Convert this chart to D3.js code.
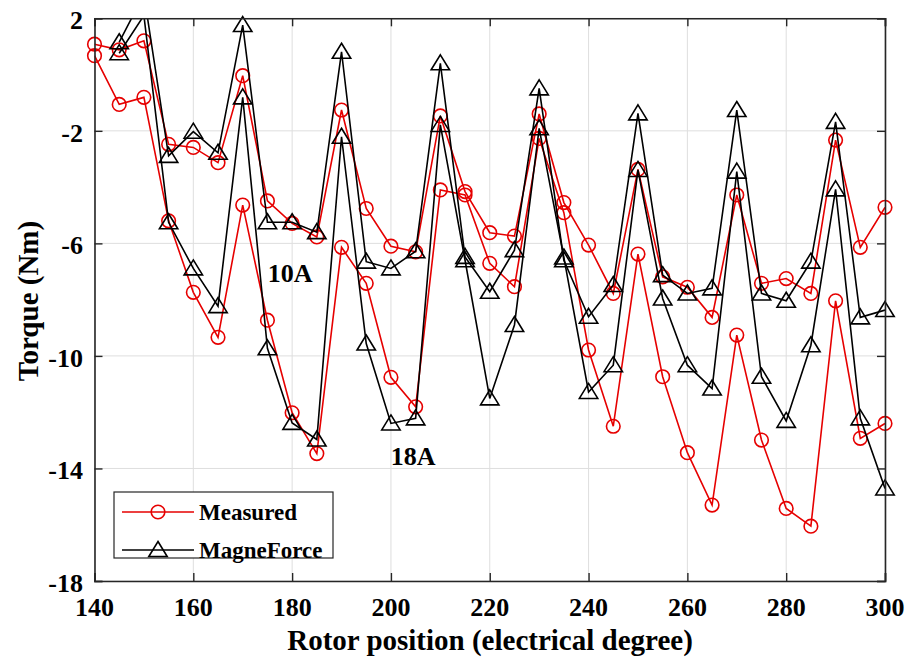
<!DOCTYPE html>
<html>
<head>
<meta charset="utf-8">
<script src="https://cdn.jsdelivr.net/npm/d3@7"></script>
<style>
  body { margin: 0; background: #fff; }
  text { font-family: "Liberation Serif", "Times New Roman", serif; font-weight: bold; fill: #000; }
</style>
</head>
<body>
<svg id="chart" width="908" height="660"></svg>
<script>
// Rotor position (electrical degrees)
const rotorPosition = [140, 145, 150, 155, 160, 165, 170, 175, 180, 185, 190, 195, 200, 205, 210, 215, 220,
                       225, 230, 235, 240, 245, 250, 255, 260, 265, 270, 275, 280, 285, 290, 295, 300];

// Measured torque (Nm)
const measured10A = [1.08, 0.88, 1.2, -2.48, -2.59, -3.13, -0.04, -4.49, -5.29, -5.77, -1.26, -4.76, -6.1, -6.3, -1.47, -4.16, -5.62,
                     -5.74, -1.4, -4.55, -6.06, -7.78, -3.37, -7.19, -7.56, -8.63, -4.28, -7.42, -7.25, -7.78, -2.33, -6.14, -4.72];
const measured18A = [0.67, -1.06, -0.81, -5.2, -7.74, -9.34, -4.64, -8.73, -12.02, -13.47, -6.14, -7.42, -10.76, -11.81, -4.1, -4.28, -6.71,
                     -7.54, -2.27, -4.91, -9.79, -12.5, -6.38, -10.74, -13.44, -15.3, -9.26, -12.99, -15.42, -16.05, -8.04, -12.93, -12.4];

// MagneForce simulation torque (Nm); no value at 140
const magneForce10A = [null, 1.15, 2.85, -2.89, -2.03, -2.78, 1.76, -5.25, -5.25, -5.6, 0.81, -6.65, -6.89, -6.28, 0.4, -6.48, -7.72,
                       -6.24, -0.49, -6.6, -8.61, -7.48, -1.38, -7.13, -7.78, -7.6, -1.26, -7.78, -8.04, -6.65, -1.68, -8.63, -8.37];
const magneForce18A = [null, 0.76, 2.1, -5.25, -6.89, -8.23, -0.81, -9.73, -12.38, -12.97, -2.21, -9.56, -12.4, -12.22, -1.79, -6.6, -11.51,
                       -8.9, -1.91, -6.5, -11.28, -10.33, -3.39, -7.96, -10.33, -11.16, -3.45, -10.74, -12.31, -9.62, -4.08, -12.22, -14.71];

const xTicks = [140, 160, 180, 200, 220, 240, 260, 280, 300];
const yTicks = [2, -2, -6, -10, -14, -18];

const seriesList = [
  { name: "Measured", values: measured10A, color: "#e60000", marker: "circle" },
  { name: "Measured", values: measured18A, color: "#e60000", marker: "circle" },
  { name: "MagneForce", values: magneForce10A, color: "#000000", marker: "triangle" },
  { name: "MagneForce", values: magneForce18A, color: "#000000", marker: "triangle" }
];
const legendItems = [
  { name: "Measured", color: "#e60000", marker: "circle" },
  { name: "MagneForce", color: "#000000", marker: "triangle" }
];
const annotations = [
  { text: "10A", x: 179.6, y: -7.38 },
  { text: "18A", x: 204.5, y: -13.88 }
];

const margin = { left: 94.5, right: 23, top: 18.3, bottom: 79 };
const W = 908, H = 660;
const svg = d3.select("#chart");

const x = d3.scaleLinear().domain([140, 300]).range([margin.left, W - margin.right]);
const y = d3.scaleLinear().domain([-18, 2]).range([H - margin.bottom, margin.top]);

const plotW = x.range()[1] - x.range()[0];
const plotH = y.range()[0] - y.range()[1];

svg.append("defs").append("clipPath").attr("id", "plotClip")
  .append("rect").attr("x", margin.left).attr("y", margin.top).attr("width", plotW).attr("height", plotH);

// grid
const grid = svg.append("g").attr("stroke", "#dedede").attr("stroke-width", 1);
grid.selectAll("line.gx").data(xTicks).join("line")
  .attr("x1", d => x(d)).attr("x2", d => x(d)).attr("y1", margin.top).attr("y2", y.range()[0]);
grid.selectAll("line.gy").data(yTicks).join("line")
  .attr("y1", d => y(d)).attr("y2", d => y(d)).attr("x1", margin.left).attr("x2", x.range()[1]);

// series lines
const lineGen = d3.line()
  .defined(d => d[1] !== null)
  .x(d => x(d[0])).y(d => y(d[1]));

const triPath = "M0,-8.5L9.2,6.5L-9.2,6.5Z";

function drawMarker(g, type, color) {
  if (type === "circle") {
    g.append("circle").attr("r", 6.8).attr("fill", "none").attr("stroke", color).attr("stroke-width", 1.6);
  } else {
    g.append("path").attr("d", triPath).attr("fill", "none").attr("stroke", color).attr("stroke-width", 1.6)
      .attr("stroke-linejoin", "miter");
  }
}

const plotG = svg.append("g");
seriesList.forEach(s => {
  const pts = rotorPosition.map((p, i) => [p, s.values[i]]);
  plotG.append("path")
    .datum(pts)
    .attr("clip-path", "url(#plotClip)")
    .attr("fill", "none")
    .attr("stroke", s.color)
    .attr("stroke-width", 1.6)
    .attr("stroke-linejoin", "miter")
    .attr("d", lineGen);
  const inRange = pts.filter(d => d[1] !== null && d[1] <= 2 && d[1] >= -18);
  inRange.forEach(d => {
    const mg = plotG.append("g").attr("transform", `translate(${x(d[0])},${y(d[1])})`);
    drawMarker(mg, s.marker, s.color);
  });
});

// axes box with inward ticks
const axisColor = "#262626";
const xAxisB = d3.axisBottom(x).tickValues(xTicks).tickSize(-8).tickFormat("");
const xAxisT = d3.axisTop(x).tickValues(xTicks).tickSize(-8).tickFormat("");
const yAxisL = d3.axisLeft(y).tickValues(yTicks).tickSize(-8).tickFormat("");
const yAxisR = d3.axisRight(y).tickValues(yTicks).tickSize(-8).tickFormat("");
[
  [xAxisB, `translate(0,${y.range()[0]})`],
  [xAxisT, `translate(0,${margin.top})`],
  [yAxisL, `translate(${margin.left},0)`],
  [yAxisR, `translate(${x.range()[1]},0)`]
].forEach(([ax, tr]) => {
  const g = svg.append("g").attr("transform", tr).call(ax);
  g.select(".domain").attr("stroke", axisColor).attr("stroke-width", 1.6);
  g.selectAll(".tick line").attr("stroke", axisColor).attr("stroke-width", 1.4);
});

// tick labels
svg.append("g").selectAll("text").data(xTicks).join("text")
  .attr("x", d => x(d)).attr("y", 616).attr("text-anchor", "middle")
  .style("font-size", "26px").text(d => d);
svg.append("g").selectAll("text").data(yTicks).join("text")
  .attr("x", 83).attr("y", d => y(d) + 11).attr("text-anchor", "end")
  .style("font-size", "26px").text(d => d);

// axis titles
svg.append("text").attr("x", 490).attr("y", 650).attr("text-anchor", "middle")
  .style("font-size", "29px").text("Rotor position (electrical degree)");
svg.append("text").attr("transform", "translate(38,301) rotate(-90)").attr("text-anchor", "middle")
  .style("font-size", "29px").text("Torque (Nm)");

// current annotations
svg.append("g").selectAll("text").data(annotations).join("text")
  .attr("x", d => x(d.x)).attr("y", d => y(d.y)).attr("text-anchor", "middle")
  .style("font-size", "26px").text(d => d.text);

// legend
const lg = svg.append("g").attr("transform", "translate(114,492)");
lg.append("rect").attr("width", 219).attr("height", 66).attr("fill", "#fff")
  .attr("stroke", axisColor).attr("stroke-width", 1.2);
legendItems.forEach((it, i) => {
  const row = lg.append("g").attr("transform", `translate(0,${20 + i * 38})`);
  row.append("line").attr("x1", 8).attr("x2", 80).attr("y1", 0).attr("y2", 0)
    .attr("stroke", it.color).attr("stroke-width", 1.6);
  const mg = row.append("g").attr("transform", "translate(44,0)");
  drawMarker(mg, it.marker, it.color);
  row.append("text").attr("x", 85).attr("y", 8).style("font-size", "23px").text(it.name);
});
</script>
</body>
</html>
